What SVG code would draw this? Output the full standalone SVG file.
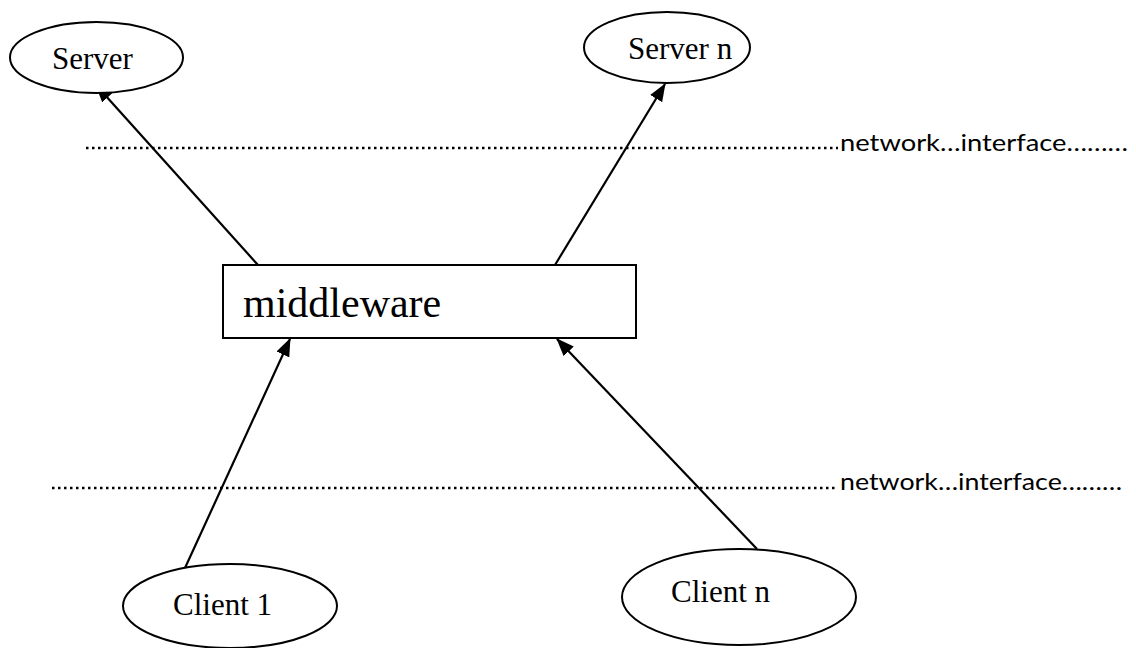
<svg xmlns="http://www.w3.org/2000/svg" width="1136" height="648" viewBox="0 0 1136 648">
<style>
.shape{fill:#fff;stroke:#000;stroke-width:2}
.lbl{font-family:"Liberation Serif","Times New Roman",serif;fill:#000}
.conn{stroke:#000;stroke-width:2.2;fill:none;marker-end:url(#arr)}
.dots{stroke:#000;stroke-width:2.5;stroke-dasharray:2.5 3.5}
.net{font-family:"Lato","Open Sans",sans-serif;font-size:24px;fill:#000}
</style>
<defs>
<marker id="arr" viewBox="0 0 18 14" refX="17" refY="7" markerWidth="18" markerHeight="14" markerUnits="userSpaceOnUse" orient="auto">
<path d="M0,0 L18,7 L0,14 z" fill="#000"/>
</marker>
</defs>
<rect width="1136" height="648" fill="#fff"/>
<g id="network-top">
<line class="dots" x1="86" y1="148" x2="838" y2="148"/>
<text class="net" x="840" y="151" textLength="288" lengthAdjust="spacingAndGlyphs">network…interface………</text>
</g>
<g id="network-bottom">
<line class="dots" x1="52" y1="488" x2="838" y2="488"/>
<text class="net" x="840" y="490" textLength="282" lengthAdjust="spacingAndGlyphs">network…interface………</text>
</g>
<g id="connectors">
<line class="conn" x1="258" y1="265" x2="96" y2="85"/>
<line class="conn" x1="555" y1="265" x2="665" y2="84"/>
<line class="conn" x1="185" y1="568" x2="290" y2="339"/>
<line class="conn" x1="757" y1="549" x2="557" y2="339"/>
</g>
<g id="server">
<ellipse class="shape" cx="96.5" cy="57.5" rx="86.5" ry="35.5"/>
<text class="lbl" x="52" y="69" font-size="31">Server</text>
</g>
<g id="server-n">
<ellipse class="shape" cx="667" cy="47.5" rx="83" ry="35.5"/>
<text class="lbl" x="628" y="59" font-size="31">Server n</text>
</g>
<g id="middleware">
<rect class="shape" x="223" y="265" width="413" height="73"/>
<text class="lbl" x="243" y="317" font-size="42">middleware</text>
</g>
<g id="client-1">
<ellipse class="shape" cx="230" cy="606" rx="107" ry="42"/>
<text class="lbl" x="173" y="615" font-size="31">Client 1</text>
</g>
<g id="client-n">
<ellipse class="shape" cx="739" cy="597" rx="117" ry="48"/>
<text class="lbl" x="671" y="602" font-size="31">Client n</text>
</g>
</svg>
